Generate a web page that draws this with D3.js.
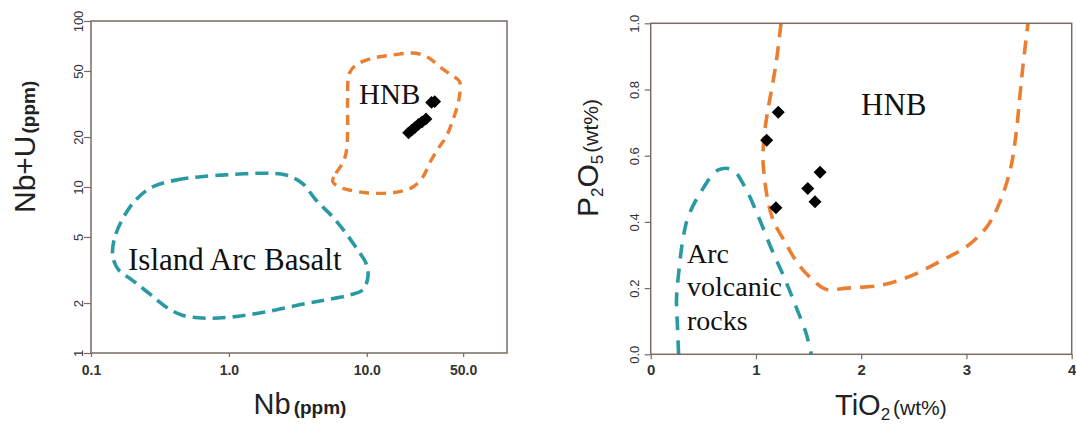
<!DOCTYPE html>
<html>
<head>
<meta charset="utf-8">
<script src="https://cdn.jsdelivr.net/npm/d3@7"></script>
<style>
  html, body { margin: 0; padding: 0; background: #ffffff; }
  svg { display: block; }
</style>
</head>
<body>
<svg id="chart" width="1076" height="425"></svg>
<script>
// ---------- Left diagram: Nb vs Nb+U (log-log) ----------
const nbTicks = [0.1, 1, 10, 50];
const nbTickLabels = ["0.1", "1.0", "10.0", "50.0"];
const nbuTicks = [1, 2, 5, 10, 20, 50, 100];

// Island Arc Basalt field (closed)
const iabNb  = [0.278,0.411,0.607,1.06,1.85,2.59,3.42,4.28,5.65,7.07,8.59,9.88,10.2,9.34,7.47,5.06,3.24,1.85,1.06,0.679,0.459,0.348,0.263,0.199,0.159,0.144,0.147,0.168,0.211];
const iabNbU = [10.0,11.0,11.5,11.9,12.1,11.8,10.5,8.35,6.62,5.26,4.17,3.47,2.88,2.40,2.23,2.09,1.95,1.77,1.65,1.62,1.69,1.90,2.29,2.75,3.16,3.80,4.80,6.33,8.35];

// HNB field (closed)
const hnbNb  = [5.65,5.98,6.68,7.07,7.26,7.26,7.47,8.36,11.0,15.4,22.8,28.5,33.7,41.0,47.1,46.5,42.1,37.7,33.7,29.3,25.5,21.6,17.3,13.0,9.88,7.47,6.32];
const hnbNbU = [10.8,12.1,13.9,16.0,21.1,33.4,48.4,54.3,59.6,62.4,63.9,59.6,53.1,47.3,43.1,33.4,25.3,20.1,17.5,14.5,11.5,10.0,9.37,9.16,9.23,9.59,10.0];

// Samples
const sampleNb  = [20.1, 21.2, 22.4, 23.7, 25.2, 26.9, 29.5, 31.1];
const sampleNbU = [21.2, 22.0, 22.9, 23.8, 24.7, 25.7, 32.3, 32.7];

// ---------- Right diagram: TiO2 vs P2O5 ----------
const tio2Ticks = [0, 1, 2, 3, 4];
const p2o5Ticks = [0, 0.2, 0.4, 0.6, 0.8, 1.0];
const p2o5TickLabels = ["0.0", "0.2", "0.4", "0.6", "0.8", "1.0"];

// Arc volcanic rocks boundary (open)
const arcTiO2 = [0.265,0.255,0.245,0.262,0.31,0.357,0.468,0.642,0.78,0.894,1.023,1.152,1.266,1.38,1.477,1.526];
const arcP2O5 = [0,0.08,0.164,0.234,0.355,0.416,0.486,0.557,0.557,0.506,0.416,0.315,0.234,0.144,0.063,0];

// HNB boundary (open)
const hnbTiO2 = [1.238,1.2,1.165,1.12,1.086,1.066,1.076,1.118,1.17,1.266,1.397,1.542,1.672,1.867,2.191,2.45,2.774,3.0,3.196,3.325,3.423,3.472,3.504,3.536,3.585];
const hnbP2O5 = [1.0,0.9,0.829,0.75,0.68,0.6,0.547,0.456,0.4,0.345,0.275,0.224,0.196,0.2,0.209,0.234,0.285,0.325,0.386,0.466,0.567,0.668,0.768,0.869,1.0];

// Samples
const sampleTiO2 = [1.212, 1.102, 1.609, 1.492, 1.561, 1.190];
const sampleP2O5 = [0.731, 0.647, 0.550, 0.501, 0.461, 0.443];

// ---------- Styles ----------
const FRAME = "#7a6b63";
const ORANGE = "#ea7f32";
const TEAL = "#2a9aa2";
const LABEL = "#333333";
const SANS = "'Liberation Sans', Arial, sans-serif";
const SERIF = "'Liberation Serif', 'Times New Roman', serif";

const svg = d3.select("#chart");
svg.append("rect").attr("width", 1076).attr("height", 425).attr("fill", "#ffffff");

function styleAxis(g) {
  g.select(".domain").remove();
  g.selectAll(".tick line").attr("stroke", FRAME).attr("stroke-width", 1.2);
  g.selectAll(".tick text").attr("fill", LABEL).attr("font-family", SANS);
}

function diamondPath(s) {
  return d3.symbol().type(d3.symbolSquare).size(s * s)();
}

// ================= LEFT =================
const xL = d3.scaleLog().domain([0.1, 104]).range([91, 507]);
const yL = d3.scaleLog().domain([1, 100]).range([353, 21]);

const gL = svg.append("g");

const lineL = d3.line().curve(d3.curveCatmullRomClosed.alpha(0.5))
  .x(d => xL(d[0])).y(d => yL(d[1]));

gL.append("path")
  .attr("d", lineL(iabNb.map((v, i) => [v, iabNbU[i]])))
  .attr("fill", "none").attr("stroke", TEAL).attr("stroke-width", 3.6)
  .attr("stroke-dasharray", "13,7");

gL.append("path")
  .attr("d", lineL(hnbNb.map((v, i) => [v, hnbNbU[i]])))
  .attr("fill", "none").attr("stroke", ORANGE).attr("stroke-width", 3.4)
  .attr("stroke-dasharray", "10,7");

gL.selectAll(".ptL").data(sampleNb.map((v, i) => [v, sampleNbU[i]]))
  .join("path")
  .attr("d", diamondPath(9))
  .attr("transform", d => `translate(${xL(d[0])},${yL(d[1])}) rotate(45)`)
  .attr("fill", "#000");

gL.append("rect").attr("x", 91).attr("y", 21).attr("width", 416).attr("height", 332)
  .attr("fill", "none").attr("stroke", FRAME).attr("stroke-width", 1.5);

const axLB = gL.append("g").attr("transform", "translate(0,353)")
  .call(d3.axisBottom(xL).tickValues(nbTicks).tickFormat((d, i) => nbTickLabels[i]).tickSize(4));
styleAxis(axLB);
axLB.selectAll(".tick text").attr("y", 22).attr("dy", 0)
  .attr("font-size", 14).attr("font-weight", "bold");

const axLL = gL.append("g").attr("transform", "translate(91,0)")
  .call(d3.axisLeft(yL).tickValues(nbuTicks).tickFormat(d3.format("d")).tickSize(7));
styleAxis(axLL);
axLL.selectAll(".tick text").attr("transform", "rotate(-90)")
  .attr("x", 0).attr("y", -8).attr("dy", 0).attr("text-anchor", "middle")
  .attr("font-size", 13);

gL.append("text").attr("x", 359).attr("y", 104)
  .attr("font-family", SERIF).attr("font-size", 29).attr("fill", "#111").text("HNB");
gL.append("text").attr("x", 128).attr("y", 270)
  .attr("font-family", SERIF).attr("font-size", 31).attr("fill", "#111").text("Island Arc Basalt");

const xtL = gL.append("text").attr("x", 300).attr("y", 414).attr("text-anchor", "middle")
  .attr("font-family", SANS).attr("fill", "#222");
xtL.append("tspan").attr("font-size", 29).text("Nb");
xtL.append("tspan").attr("font-size", 19).attr("font-weight", "bold").attr("dx", 3).text("(ppm)");

const ytL = gL.append("text").attr("transform", "translate(35,213) rotate(-90)")
  .attr("font-family", SANS).attr("fill", "#222");
ytL.append("tspan").attr("font-size", 30).text("Nb+U");
ytL.append("tspan").attr("font-size", 19).attr("font-weight", "bold").attr("dx", 2).text("(ppm)");

// ================= RIGHT =================
const xR = d3.scaleLinear().domain([0, 4]).range([650.7, 1071.7]);
const yR = d3.scaleLinear().domain([0, 1]).range([354.3, 23.3]);

const gR = svg.append("g");
svg.append("defs").append("clipPath").attr("id", "clipR")
  .append("rect").attr("x", 650.7).attr("y", 23.3).attr("width", 421).attr("height", 331);

const lineR = d3.line().curve(d3.curveCatmullRom.alpha(0.5))
  .x(d => xR(d[0])).y(d => yR(d[1]));

gR.append("path")
  .attr("clip-path", "url(#clipR)")
  .attr("d", lineR(arcTiO2.map((v, i) => [v, arcP2O5[i]])))
  .attr("fill", "none").attr("stroke", TEAL).attr("stroke-width", 3.6)
  .attr("stroke-dasharray", "14,10");

gR.append("path")
  .attr("clip-path", "url(#clipR)")
  .attr("d", lineR(hnbTiO2.map((v, i) => [v, hnbP2O5[i]])))
  .attr("fill", "none").attr("stroke", ORANGE).attr("stroke-width", 3.6)
  .attr("stroke-dasharray", "14,9");

gR.selectAll(".ptR").data(sampleTiO2.map((v, i) => [v, sampleP2O5[i]]))
  .join("path")
  .attr("d", diamondPath(9.2))
  .attr("transform", d => `translate(${xR(d[0])},${yR(d[1])}) rotate(45)`)
  .attr("fill", "#000");

gR.append("rect").attr("x", 650.7).attr("y", 23.3).attr("width", 421).attr("height", 331)
  .attr("fill", "none").attr("stroke", FRAME).attr("stroke-width", 1.5);

const axRB = gR.append("g").attr("transform", "translate(0,354.3)")
  .call(d3.axisBottom(xR).tickValues(tio2Ticks).tickFormat(d3.format("d")).tickSize(5));
styleAxis(axRB);
axRB.selectAll(".tick text").attr("y", 21).attr("dy", 0)
  .attr("font-size", 15).attr("font-weight", "bold");

const axRL = gR.append("g").attr("transform", "translate(650.7,0)")
  .call(d3.axisLeft(yR).tickValues(p2o5Ticks).tickFormat((d, i) => p2o5TickLabels[i]).tickSize(6));
styleAxis(axRL);
axRL.selectAll(".tick text").attr("transform", "rotate(-90)")
  .attr("x", 0).attr("y", -12).attr("dy", 0).attr("text-anchor", "middle")
  .attr("font-size", 13);

gR.append("text").attr("x", 861).attr("y", 115)
  .attr("font-family", SERIF).attr("font-size", 31).attr("fill", "#111").text("HNB");
const arcLbl = gR.append("text").attr("font-family", SERIF).attr("font-size", 28).attr("fill", "#111");
["Arc", "volcanic", "rocks"].forEach((t, i) => {
  arcLbl.append("tspan").attr("x", 687).attr("y", 263 + i * 33.3).text(t);
});

const xtR = gR.append("text").attr("x", 835).attr("y", 415)
  .attr("font-family", SANS).attr("fill", "#222");
xtR.append("tspan").attr("font-size", 29).text("TiO");
xtR.append("tspan").attr("font-size", 17).attr("dy", 5).text("2");
xtR.append("tspan").attr("font-size", 21).attr("dy", -5).attr("dx", 3).text("(wt%)");

const ytR = gR.append("text").attr("transform", "translate(598,217) rotate(-90)")
  .attr("font-family", SANS).attr("fill", "#222");
ytR.append("tspan").attr("font-size", 30).text("P");
ytR.append("tspan").attr("font-size", 17).attr("dy", 5).text("2");
ytR.append("tspan").attr("font-size", 30).attr("dy", -5).text("O");
ytR.append("tspan").attr("font-size", 17).attr("dy", 5).text("5");
ytR.append("tspan").attr("font-size", 21).attr("dy", -5).attr("dx", 2).text("(wt%)");
</script>
</body>
</html>
